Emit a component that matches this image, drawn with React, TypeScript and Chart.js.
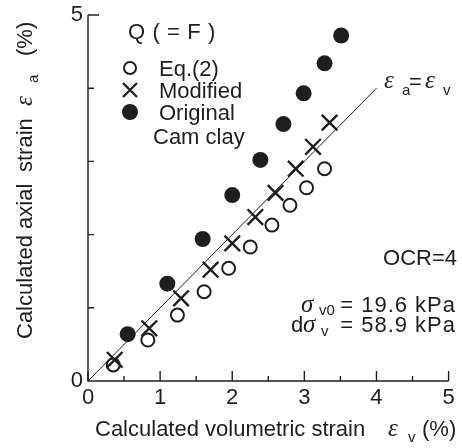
import React, { useEffect, useRef } from "react";
import { Chart, registerables } from "chart.js";

Chart.register(...registerables);

// Calculated volumetric strain (x) and axial strain (y), in %
const evEq2 = [0.35, 0.83, 1.24, 1.61, 1.95, 2.25, 2.55, 2.8, 3.03, 3.28];
const eaEq2 = [0.22, 0.56, 0.9, 1.22, 1.54, 1.83, 2.13, 2.4, 2.64, 2.9];
const evMod = [0.37, 0.85, 1.29, 1.7, 2.0, 2.32, 2.6, 2.88, 3.12, 3.35];
const eaMod = [0.29, 0.72, 1.13, 1.52, 1.88, 2.24, 2.57, 2.9, 3.2, 3.53];
const evOrig = [0.55, 1.1, 1.59, 2.0, 2.39, 2.71, 2.99, 3.28, 3.51];
const eaOrig = [0.64, 1.33, 1.94, 2.54, 3.02, 3.51, 3.93, 4.34, 4.72];
const lineX = [0, 4];
const lineY = [0, 4];

const xTickLabels = ["0", "1", "2", "3", "4", "5"];
const xMajorTicks = [0, 1, 2, 3, 4, 5];
const xMinorTicks = [0.5, 1.5, 2.5, 3.5, 4.5];
const yLabelTicks = [0, 5];
const yMinorTicks = [1, 2, 3, 4];

const SANS = '"Liberation Sans", Arial, sans-serif';
const GREEK = 'italic 25px "Liberation Serif", serif';
const INK = "#1e1e1e";
const f22 = `22px ${SANS}`;
const f15 = `15px ${SANS}`;

function put(ctx: CanvasRenderingContext2D, t: string, font: string, x: number, y: number, align: CanvasTextAlign = "left", spacing = 0) {
  ctx.font = font;
  ctx.textAlign = align;
  ctx.textBaseline = "alphabetic";
  (ctx as any).letterSpacing = `${spacing}px`;
  ctx.fillText(t, x, y);
  (ctx as any).letterSpacing = "0px";
}

const decorPlugin = {
  id: "decor",
  afterDraw(chart: any) {
    const ctx: CanvasRenderingContext2D = chart.ctx;
    const xs = chart.scales.x;
    const ys = chart.scales.y;
    const x0 = xs.getPixelForValue(0);
    const x5 = xs.getPixelForValue(5);
    const y0 = ys.getPixelForValue(0);
    const y5 = ys.getPixelForValue(5);
    ctx.save();
    ctx.strokeStyle = INK;
    ctx.fillStyle = INK;
    ctx.lineWidth = 1.4;
    // axes
    ctx.beginPath();
    ctx.moveTo(x0, y5);
    ctx.lineTo(x0, y0);
    ctx.lineTo(x5, y0);
    ctx.stroke();
    // x ticks (inward)
    ctx.beginPath();
    for (const v of xMajorTicks) {
      const px = xs.getPixelForValue(v);
      ctx.moveTo(px, y0);
      ctx.lineTo(px, y0 - 10);
    }
    for (const v of xMinorTicks) {
      const px = xs.getPixelForValue(v);
      ctx.moveTo(px, y0);
      ctx.lineTo(px, y0 - 5);
    }
    // y ticks (inward)
    for (const v of yMinorTicks) {
      const py = ys.getPixelForValue(v);
      ctx.moveTo(x0, py);
      ctx.lineTo(x0 + 6, py);
    }
    ctx.moveTo(x0, y5);
    ctx.lineTo(x0 + 11, y5);
    ctx.stroke();

    // tick labels
    ctx.font = f22;
    ctx.textBaseline = "middle";
    ctx.textAlign = "center";
    xMajorTicks.forEach((v, i) => {
      ctx.fillText(xTickLabels[i], xs.getPixelForValue(v), y0 + 17);
    });
    ctx.textAlign = "right";
    for (const v of yLabelTicks) {
      ctx.fillText(String(v), x0 - 5, ys.getPixelForValue(v));
    }

    // x title
    put(ctx, "Calculated volumetric strain", f22, 95, 436);
    put(ctx, "ε", GREEK, 388, 436);
    put(ctx, "v", f15, 408, 442);
    put(ctx, "(%)", f22, 422, 436);

    // y title (rotated), offsets measured from the start of the text
    ctx.save();
    ctx.translate(32, 339);
    ctx.rotate(-Math.PI / 2);
    put(ctx, "Calculated axial", f22, 0, 0);
    put(ctx, "strain", f22, 167, 0);
    put(ctx, "ε", GREEK, 233, 0);
    put(ctx, "a", f15, 256, 6);
    put(ctx, "(%)", f22, 283, 0);
    ctx.restore();

    // legend
    put(ctx, "Q ( = F )", f22, 128, 39, "left", 0.6);
    const lx = 130;
    ctx.lineWidth = 2;
    ctx.beginPath();
    ctx.arc(lx, 68, 6, 0, Math.PI * 2);
    ctx.stroke();
    ctx.lineWidth = 2.4;
    ctx.beginPath();
    ctx.moveTo(lx - 7, 90 - 7);
    ctx.lineTo(lx + 7, 90 + 7);
    ctx.moveTo(lx - 7, 90 + 7);
    ctx.lineTo(lx + 7, 90 - 7);
    ctx.stroke();
    ctx.beginPath();
    ctx.arc(lx, 112, 8, 0, Math.PI * 2);
    ctx.fill();
    put(ctx, "Eq.(2)", f22, 159, 76);
    put(ctx, "Modified", f22, 159, 98);
    put(ctx, "Original", f22, 159, 120);
    put(ctx, "Cam clay", f22, 153, 144);

    // line label
    put(ctx, "ε", GREEK, 384, 88);
    put(ctx, "a", f15, 402, 95);
    put(ctx, "=", f22, 409, 89);
    put(ctx, "ε", GREEK, 425, 88);
    put(ctx, "v", f15, 443, 95);

    // annotations
    put(ctx, "OCR=4", f22, 457, 265, "right");
    put(ctx, "σ", GREEK, 301, 312);
    put(ctx, "v0", f15, 319, 315);
    put(ctx, "= 19.6 kPa", f22, 456, 312, "right", 1);
    put(ctx, "d", f22, 291, 332);
    put(ctx, "σ", GREEK, 303, 332);
    put(ctx, "v", f15, 321, 336);
    put(ctx, "= 58.9 kPa", f22, 456, 332, "right", 1);
    ctx.restore();
  },
};

function pts(xv: number[], yv: number[]) {
  return xv.map((x, i) => ({ x, y: yv[i] }));
}

export default function App() {
  const ref = useRef<HTMLCanvasElement | null>(null);
  useEffect(() => {
    if (!ref.current) return;
    const chart = new Chart(ref.current, {
      type: "scatter",
      data: {
        datasets: [
          {
            label: "Original Cam clay",
            data: pts(evOrig, eaOrig),
            pointStyle: "circle",
            pointRadius: 8,
            backgroundColor: INK,
            borderColor: INK,
            borderWidth: 0,
          },
          {
            label: "Modified",
            data: pts(evMod, eaMod),
            pointStyle: "crossRot",
            pointRadius: 11,
            borderColor: INK,
            borderWidth: 2.4,
          },
          {
            label: "Eq.(2)",
            data: pts(evEq2, eaEq2),
            pointStyle: "circle",
            pointRadius: 6.5,
            backgroundColor: "#ffffff",
            borderColor: INK,
            borderWidth: 2,
          },
          {
            type: "line",
            label: "ea=ev",
            data: pts(lineX, lineY),
            showLine: true,
            pointRadius: 0,
            borderColor: INK,
            borderWidth: 1,
            fill: false,
          } as any,
        ],
      },
      options: {
        responsive: false,
        animation: false,
        devicePixelRatio: 1,
        layout: { padding: { left: 88, right: 10, top: 15, bottom: 67 } },
        plugins: { legend: { display: false }, tooltip: { enabled: false } },
        scales: {
          x: { type: "linear", min: 0, max: 5, display: false },
          y: { type: "linear", min: 0, max: 5, display: false },
        },
      },
      plugins: [decorPlugin],
    });
    return () => chart.destroy();
  }, []);
  return (
    <div style={{ position: "absolute", left: 0, top: 0, width: 462, height: 448, background: "#fff" }}>
      <canvas ref={ref} width={462} height={448} style={{ width: 462, height: 448, display: "block" }} />
    </div>
  );
}
